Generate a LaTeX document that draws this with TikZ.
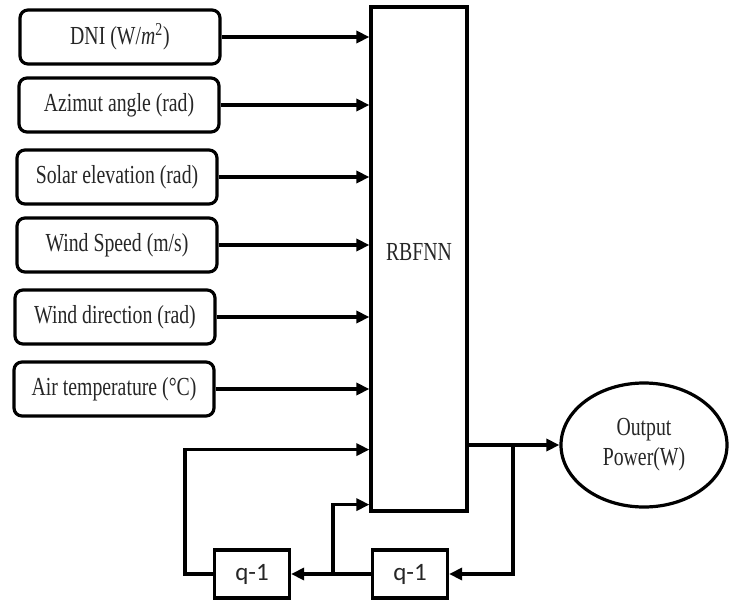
\documentclass[tikz,border=0pt]{standalone}
\usepackage{fontspec}
\setmainfont{Liberation Serif}[FakeStretch=0.76]
\newfontfamily\delayfont{Carlito}
\usetikzlibrary{positioning, arrows.meta, calc, shapes.geometric}

\begin{document}
\begin{tikzpicture}[
  x=0.5pt, y=-0.5pt,
  >={Triangle[length=6.5pt, width=6pt]},
  font=\fontsize{13}{14}\selectfont,
  text=black!85,
  inbox/.style={
    draw, rounded corners=4pt, line width=1.6pt,
    minimum width=100pt, minimum height=27pt, inner sep=0pt
  },
  netbox/.style={draw, line width=1.6pt,
    minimum width=48pt, minimum height=252pt},
  delay/.style={draw, line width=1.6pt, inner sep=0pt,
    minimum width=37.5pt, minimum height=24pt,
    font=\delayfont\fontsize{12.5}{14}\selectfont},
  outnode/.style={draw, ellipse, line width=1.6pt, inner sep=0pt,
    minimum width=83pt, minimum height=62pt, align=center},
  arr/.style={->, line width=1.6pt}
]
\useasboundingbox (0,0) rectangle (739,600);

% Network block
\node[netbox] (rbf) at (419,259) {\raisebox{7pt}{RBFNN}};

% Input column
\node[inbox] (dni)  at (120,37)  {DNI (W/\textit{m}\textsuperscript{2})};
\node[inbox] (azi)  at (119,105) {Azimut angle (rad)};
\node[inbox] (sol)  at (117,177) {Solar elevation (rad)};
\node[inbox] (wsp)  at (117,245) {Wind Speed (m/s)};
\node[inbox] (wdir) at (115,317) {Wind direction (rad)};
\node[inbox] (temp) at (114,389) {Air temperature (°C)};

\foreach \n in {dni, azi, sol, wsp, wdir, temp}
  \draw[arr] (\n.east) -- (\n.east -| rbf.west);

% Output
\node[outnode] (pout) at (644,445) {Output\\[1pt]Power(W)};
\draw[arr] (rbf.east |- pout.west) -- (pout.west);

% Delay line fed back into the network
\node[delay] (z2) at (410,574) {q-1};
\node[delay] (z1) at (252,574) {q-1};

\coordinate (split) at (513,445);
\coordinate (tap) at (333,574);

\draw[arr] (split) |- (z2.east);
\draw[arr] (z2.west) -- (z1.east);
\draw[arr] (tap) |- ($(rbf.south west)+(0,-8)$);
\draw[arr] (z1.west) -- ++(-28,0) |- ($(rbf.south west)+(0,-63)$);

\end{tikzpicture}
\end{document}
